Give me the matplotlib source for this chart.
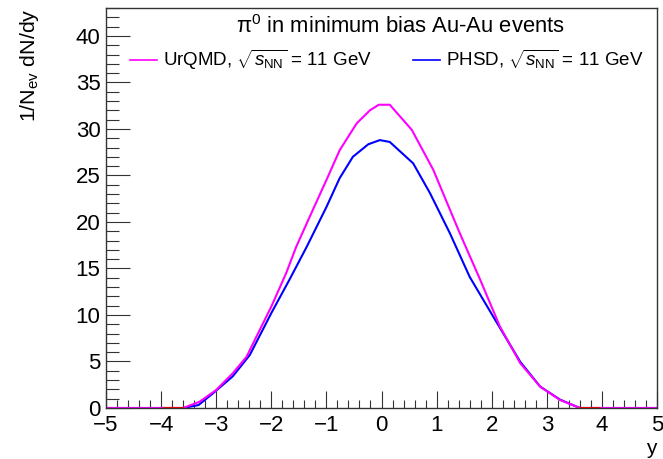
import matplotlib
matplotlib.use("Agg")
import matplotlib.pyplot as plt
from matplotlib.ticker import MultipleLocator

plt.rcParams['font.family'] = ['Liberation Sans', 'DejaVu Sans']
plt.rcParams['mathtext.fontset'] = 'custom'
plt.rcParams['mathtext.rm'] = 'Liberation Sans'
plt.rcParams['mathtext.it'] = 'Liberation Sans:italic'
plt.rcParams['mathtext.bf'] = 'Liberation Sans:bold'

# UrQMD curve
urqmd_y = [-5, -3.6, -3.3, -3.0, -2.7, -2.45, -2.27, -2.0, -1.73, -1.55, -1.3, -1.0,
           -0.76, -0.45, -0.21, -0.05, 0.15, 0.55, 0.94, 1.42, 1.79, 2.15, 2.52,
           2.88, 3.24, 3.6, 5]
urqmd_dndy = [0, 0, 0.68, 1.94, 3.73, 5.5, 7.67, 10.9, 14.5, 17.3, 20.6, 24.5,
              27.7, 30.6, 32.0, 32.6, 32.6, 29.9, 25.6, 18.8, 13.8, 8.75, 4.8,
              2.3, 0.86, 0, 0]

# PHSD curve
phsd_y = [-5, -3.6, -3.32, -3.06, -2.7, -2.39, -2.0, -1.67, -1.36, -1.0, -0.76,
          -0.52, -0.24, -0.03, 0.15, 0.575, 0.88, 1.24, 1.6, 2.03, 2.52, 2.88,
          3.24, 3.6, 5]
phsd_dndy = [0, 0, 0.32, 1.57, 3.4, 5.7, 10.2, 13.8, 17.3, 21.6, 24.7,
             27.0, 28.35, 28.8, 28.6, 26.3, 23.1, 18.8, 14.1, 9.8, 4.95, 2.3,
             0.9, 0, 0]

# short red pieces visible at the base
red_left = [-3.95, -3.6]
red_right = [3.6, 3.95]
red_zero = [0, 0]

fig = plt.figure(figsize=(6.63, 4.59), dpi=100)
ax = fig.add_axes([106 / 663, 1 - 408 / 459, (657 - 106) / 663, (408 - 8) / 459])

ax.plot(phsd_y, phsd_dndy, color='#0000ff', lw=1.5,
        label=r'PHSD, $\sqrt{s_{\rm NN}}$ = 11 GeV')
ax.plot(urqmd_y, urqmd_dndy, color='#ff00ff', lw=1.5,
        label=r'UrQMD, $\sqrt{s_{\rm NN}}$ = 11 GeV')
ax.plot(red_left, red_zero, color='red', lw=1.5)
ax.plot(red_right, red_zero, color='red', lw=1.5)

ax.set_xlim(-5, 5)
ax.set_ylim(0, 43)
ax.xaxis.set_major_locator(MultipleLocator(1))
ax.xaxis.set_minor_locator(MultipleLocator(0.2))
ax.yaxis.set_major_locator(MultipleLocator(5))
ax.yaxis.set_minor_locator(MultipleLocator(1))
ax.tick_params(which='both', direction='in', labelsize=16, width=0.8, color='#333333')
ax.tick_params(axis='x', which='major', length=12, pad=5)
ax.tick_params(axis='x', which='minor', length=6)
ax.tick_params(axis='y', which='major', length=17, pad=4)
ax.tick_params(axis='y', which='minor', length=9)
for s in ax.spines.values():
    s.set_linewidth(1)
    s.set_color('#333333')

ax.set_xlabel('y', fontsize=15, loc='right', labelpad=2)
ax.set_ylabel(r'1/N$_{\rm ev}$ dN/dy', fontsize=15.4, loc='top', labelpad=25)

ax.text(0.535, 0.9525, 'π$^{0}$ in minimum bias Au-Au events', transform=ax.transAxes,
        ha='center', va='center', fontsize=15.8)

handles, labels = ax.get_legend_handles_labels()
leg = ax.legend(handles[::-1], labels[::-1], ncol=2, frameon=False,
                loc='center left', bbox_to_anchor=(0.0436, 0.87),
                borderaxespad=0, borderpad=0,
                fontsize=13.5, handlelength=1.45,
                handletextpad=0.3, columnspacing=2.2)
for ln in leg.get_lines():
    ln.set_linewidth(1.2)

fig.savefig('out.png', dpi=100)
